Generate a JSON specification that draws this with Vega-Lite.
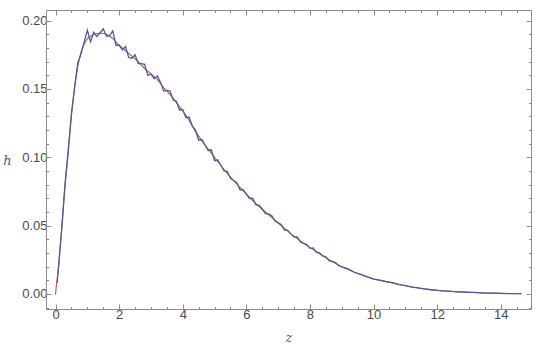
{
  "$schema": "https://vega.github.io/schema/vega-lite/v6.json",
  "width": 485,
  "height": 299,
  "autosize": "none",
  "padding": {"left": 46, "top": 10, "right": 9, "bottom": 47},
  "background": "white",
  "config": {
    "view": {"stroke": null},
    "axis": {"labelFont": "Liberation Sans", "labelFontSize": 13, "labelColor": "#4a4a4a", "domainColor": "#8c8c8c", "tickColor": "#8c8c8c", "grid": false, "titleFont": "DejaVu Serif", "titleFontStyle": "italic", "titleFontWeight": "normal", "titleColor": "#5a5a5a", "titleFontSize": 13}
  },
  "datasets": {
    "fit": [
      {"z": 0, "h": -0.0005}, {"z": 0.02, "h": 0.005}, {"z": 0.1, "h": 0.020}, {"z": 0.2, "h": 0.050}, {"z": 0.3, "h": 0.080}, {"z": 0.4, "h": 0.106},
      {"z": 0.5, "h": 0.131}, {"z": 0.6, "h": 0.152}, {"z": 0.7, "h": 0.167}, {"z": 0.8, "h": 0.177}, {"z": 0.9, "h": 0.183},
      {"z": 1.0, "h": 0.187}, {"z": 1.2, "h": 0.190}, {"z": 1.4, "h": 0.191}, {"z": 1.6, "h": 0.190}, {"z": 1.8, "h": 0.187},
      {"z": 2.0, "h": 0.182}, {"z": 2.2, "h": 0.178}, {"z": 2.4, "h": 0.174}, {"z": 2.6, "h": 0.170}, {"z": 2.8, "h": 0.165},
      {"z": 3.0, "h": 0.161}, {"z": 3.2, "h": 0.157}, {"z": 3.4, "h": 0.151}, {"z": 3.6, "h": 0.146}, {"z": 3.8, "h": 0.140},
      {"z": 4.0, "h": 0.134}, {"z": 4.2, "h": 0.127}, {"z": 4.4, "h": 0.119}, {"z": 4.6, "h": 0.112}, {"z": 4.8, "h": 0.106},
      {"z": 5.0, "h": 0.100}, {"z": 5.2, "h": 0.094}, {"z": 5.4, "h": 0.088}, {"z": 5.6, "h": 0.083}, {"z": 5.8, "h": 0.078},
      {"z": 6.0, "h": 0.073}, {"z": 6.3, "h": 0.066}, {"z": 6.6, "h": 0.060}, {"z": 7.0, "h": 0.052}, {"z": 7.4, "h": 0.044},
      {"z": 7.8, "h": 0.037}, {"z": 8.2, "h": 0.031}, {"z": 8.6, "h": 0.025}, {"z": 9.0, "h": 0.020}, {"z": 9.5, "h": 0.015},
      {"z": 10.0, "h": 0.011}, {"z": 10.5, "h": 0.0085}, {"z": 11.0, "h": 0.0060}, {"z": 11.5, "h": 0.0040}, {"z": 12.0, "h": 0.0026},
      {"z": 12.5, "h": 0.0018}, {"z": 13.0, "h": 0.0012}, {"z": 13.5, "h": 0.0007}, {"z": 14.0, "h": 0.0004}, {"z": 14.65, "h": 0.0002}
    ],
    "sim": [
      {"z": 0.05, "h": 0.008}, {"z": 0.1, "h": 0.022}, {"z": 0.2, "h": 0.049}, {"z": 0.3, "h": 0.081}, {"z": 0.4, "h": 0.104},
      {"z": 0.5, "h": 0.132}, {"z": 0.6, "h": 0.151}, {"z": 0.7, "h": 0.169}, {"z": 0.8, "h": 0.1755}, {"z": 0.9, "h": 0.1845},
      {"z": 1.0, "h": 0.193}, {"z": 1.1, "h": 0.1845}, {"z": 1.2, "h": 0.1915}, {"z": 1.3, "h": 0.1885}, {"z": 1.4, "h": 0.191},
      {"z": 1.5, "h": 0.194}, {"z": 1.6, "h": 0.1885}, {"z": 1.7, "h": 0.189}, {"z": 1.8, "h": 0.1925}, {"z": 1.9, "h": 0.182},
      {"z": 2.0, "h": 0.182}, {"z": 2.1, "h": 0.1785}, {"z": 2.2, "h": 0.181}, {"z": 2.3, "h": 0.173}, {"z": 2.4, "h": 0.1725},
      {"z": 2.5, "h": 0.175}, {"z": 2.6, "h": 0.1685}, {"z": 2.7, "h": 0.1685}, {"z": 2.8, "h": 0.168}, {"z": 2.9, "h": 0.160},
      {"z": 3.0, "h": 0.161}, {"z": 3.1, "h": 0.1575}, {"z": 3.2, "h": 0.1595}, {"z": 3.3, "h": 0.155}, {"z": 3.4, "h": 0.1485},
      {"z": 3.5, "h": 0.149}, {"z": 3.6, "h": 0.1485}, {"z": 3.7, "h": 0.142}, {"z": 3.8, "h": 0.141}, {"z": 3.9, "h": 0.1345},
      {"z": 4.0, "h": 0.135}, {"z": 4.1, "h": 0.129}, {"z": 4.2, "h": 0.1295}, {"z": 4.3, "h": 0.123}, {"z": 4.4, "h": 0.120},
      {"z": 4.5, "h": 0.1125}, {"z": 4.6, "h": 0.113}, {"z": 4.7, "h": 0.109}, {"z": 4.8, "h": 0.105}, {"z": 4.9, "h": 0.1055},
      {"z": 5.0, "h": 0.0975}, {"z": 5.1, "h": 0.098}, {"z": 5.2, "h": 0.094}, {"z": 5.3, "h": 0.090}, {"z": 5.4, "h": 0.0898},
      {"z": 5.5, "h": 0.0846}, {"z": 5.6, "h": 0.083}, {"z": 5.7, "h": 0.0814}, {"z": 5.8, "h": 0.0762}, {"z": 5.9, "h": 0.0764},
      {"z": 6.0, "h": 0.073}, {"z": 6.1, "h": 0.0698}, {"z": 6.2, "h": 0.0701}, {"z": 6.3, "h": 0.0651}, {"z": 6.4, "h": 0.0649},
      {"z": 6.5, "h": 0.062}, {"z": 6.6, "h": 0.0588}, {"z": 6.7, "h": 0.0586}, {"z": 6.8, "h": 0.0572}, {"z": 6.9, "h": 0.0534},
      {"z": 7.0, "h": 0.052}, {"z": 7.1, "h": 0.0506}, {"z": 7.2, "h": 0.0468}, {"z": 7.3, "h": 0.0466}, {"z": 7.4, "h": 0.044},
      {"z": 7.5, "h": 0.0416}, {"z": 7.6, "h": 0.0417}, {"z": 7.7, "h": 0.0381}, {"z": 7.8, "h": 0.037}, {"z": 7.9, "h": 0.0361},
      {"z": 8.0, "h": 0.0334}, {"z": 8.1, "h": 0.0337}, {"z": 8.2, "h": 0.0305}, {"z": 8.3, "h": 0.0301}, {"z": 8.4, "h": 0.0278},
      {"z": 8.5, "h": 0.0271}, {"z": 8.6, "h": 0.0244}, {"z": 8.7, "h": 0.0236}, {"z": 8.8, "h": 0.0229}, {"z": 8.9, "h": 0.0208},
      {"z": 9.0, "h": 0.0199}, {"z": 9.2, "h": 0.0184}, {"z": 9.4, "h": 0.0157}, {"z": 9.6, "h": 0.0144}, {"z": 9.8, "h": 0.0125},
      {"z": 10.0, "h": 0.0108}, {"z": 10.2, "h": 0.0102}, {"z": 10.4, "h": 0.0091}, {"z": 10.6, "h": 0.0083}, {"z": 10.8, "h": 0.0068},
      {"z": 11.0, "h": 0.0061}, {"z": 11.2, "h": 0.0050}, {"z": 11.4, "h": 0.0045}, {"z": 11.6, "h": 0.0037}, {"z": 11.8, "h": 0.0031},
      {"z": 12.0, "h": 0.0027}, {"z": 12.2, "h": 0.0022}, {"z": 12.4, "h": 0.0021}, {"z": 12.6, "h": 0.0016},
      {"z": 12.8, "h": 0.0015}, {"z": 13.0, "h": 0.0011}, {"z": 13.2, "h": 0.0011}, {"z": 13.4, "h": 0.0008}, {"z": 13.6, "h": 0.0006},
      {"z": 13.8, "h": 0.0006}, {"z": 14.0, "h": 0.0004}, {"z": 14.2, "h": 0.0003}, {"z": 14.4, "h": 0.0002}, {"z": 14.65, "h": 0.0002}
    ]
  },
  "resolve": {"axis": {"x": "independent", "y": "independent"}},
  "layer": [
    {
      "data": {"name": "fit"},
      "mark": {"type": "line", "color": "#c8504a", "strokeWidth": 1.1, "clip": true},
      "encoding": {
        "x": {"field": "z", "type": "quantitative", "scale": {"domain": [-0.3, 14.95], "nice": false, "zero": false},
          "axis": {"orient": "bottom", "title": "z", "titlePadding": 8,
            "values": [0,0.5,1,1.5,2,2.5,3,3.5,4,4.5,5,5.5,6,6.5,7,7.5,8,8.5,9,9.5,10,10.5,11,11.5,12,12.5,13,13.5,14,14.5],
            "labelExpr": "datum.value % 2 === 0 ? format(datum.value, 'd') : ''",
            "labelOverlap": false, "labelPadding": 4,
            "tickSize": {"condition": {"test": "datum.value % 2 === 0", "value": -5}, "value": -2.5}}},
        "y": {"field": "h", "type": "quantitative", "scale": {"domain": [-0.011, 0.2078], "nice": false, "zero": false},
          "axis": {"orient": "left", "title": "h", "titleAngle": 0, "titleAlign": "center", "titleBaseline": "middle", "titleX": -39, "titleY": 150,
            "values": [-0.01,0,0.01,0.02,0.03,0.04,0.05,0.06,0.07,0.08,0.09,0.1,0.11,0.12,0.13,0.14,0.15,0.16,0.17,0.18,0.19,0.2],
            "labelExpr": "abs(datum.value*20 - round(datum.value*20)) < 0.000001 ? format(datum.value, '.2f') : ''",
            "labelOverlap": false, "labelPadding": 4,
            "tickSize": {"condition": {"test": "abs(datum.value*20 - round(datum.value*20)) < 0.000001", "value": -5}, "value": -2.5}}}
      }
    },
    {
      "data": {"name": "sim"},
      "mark": {"type": "line", "color": "#4d5b97", "strokeWidth": 1.3, "clip": true},
      "encoding": {
        "x": {"field": "z", "type": "quantitative", "scale": {"domain": [-0.3, 14.95], "nice": false, "zero": false},
          "axis": {"orient": "top", "title": null, "labels": false,
            "values": [0,0.5,1,1.5,2,2.5,3,3.5,4,4.5,5,5.5,6,6.5,7,7.5,8,8.5,9,9.5,10,10.5,11,11.5,12,12.5,13,13.5,14,14.5],
            "tickSize": {"condition": {"test": "datum.value % 2 === 0", "value": -5}, "value": -2.5}}},
        "y": {"field": "h", "type": "quantitative", "scale": {"domain": [-0.011, 0.2078], "nice": false, "zero": false},
          "axis": {"orient": "right", "title": null, "labels": false,
            "values": [-0.01,0,0.01,0.02,0.03,0.04,0.05,0.06,0.07,0.08,0.09,0.1,0.11,0.12,0.13,0.14,0.15,0.16,0.17,0.18,0.19,0.2],
            "tickSize": {"condition": {"test": "abs(datum.value*20 - round(datum.value*20)) < 0.000001", "value": -5}, "value": -2.5}}}
      }
    }
  ]
}
